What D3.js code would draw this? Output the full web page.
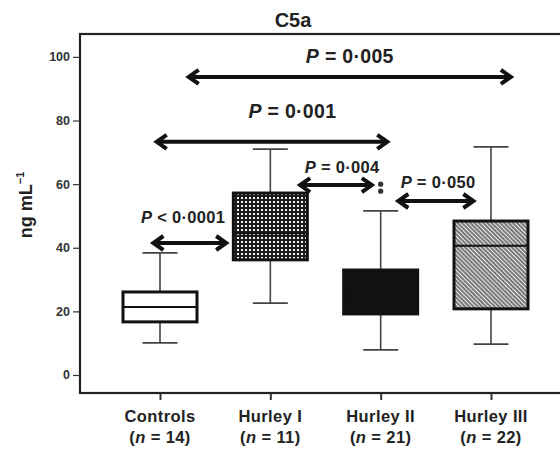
<!DOCTYPE html>
<html>
<head>
<meta charset="utf-8">
<script src="https://cdn.jsdelivr.net/npm/d3@7"></script>
<style>
  body { margin: 0; background: #fff; }
  text { font-family: "Liberation Sans", Arial, sans-serif; }
</style>
</head>
<body>
<script>
// Data
const groups = ["Controls", "Hurley I", "Hurley II", "Hurley III"];
const nCounts = [14, 11, 21, 22];
const whiskerLow = [10.1, 22.6, 7.9, 9.7];
const q1 = [16.7, 36.2, 19.2, 20.8];
const median = [21.4, 44.6, 25.0, 40.6];
const q3 = [26.1, 57.2, 33.0, 48.4];
const whiskerHigh = [38.4, 71.0, 51.6, 71.7];
const outlierGroup = ["Hurley II", "Hurley II"];
const outlierValue = [57.8, 60.0];
const fills = ["white", "url(#dots)", "#111", "url(#hatch)"];
const yTicks = [0, 20, 40, 60, 80, 100];

// comparisons: arrow ends / label centre in group-index units, heights in ng/mL
const cmpLabel = ["= 0·005", "= 0·001", "< 0·0001", "= 0·004", "= 0·050"];
const cmpFrom = [0.26, -0.03, -0.06, 1.27, 2.16];
const cmpTo = [3.18, 2.06, 0.60, 1.92, 2.84];
const cmpY = [93.7, 73.3, 41.5, 59.7, 54.7];
const cmpTextX = [1.72, 1.20, 0.21, 1.65, 2.52];
const cmpTextY = [98.1, 80.8, 47.8, 63.5, 58.8];
const cmpFont = [19.5, 19.5, 16.5, 16.5, 16.5];

const W = 560, H = 453;
const plotL = 80, plotT = 34, plotB = 393, plotR = 571;

const svg = d3.select("body").append("svg")
    .attr("width", W).attr("height", H);

const defs = svg.append("defs");
const dots = defs.append("pattern").attr("id", "dots")
    .attr("patternUnits", "userSpaceOnUse").attr("width", 4).attr("height", 4);
dots.append("rect").attr("width", 4).attr("height", 4).attr("fill", "#1c1c1c");
dots.append("rect").attr("x", 1).attr("y", 1).attr("width", 2).attr("height", 2).attr("fill", "#f4f4f4");

const hatch = defs.append("pattern").attr("id", "hatch")
    .attr("patternUnits", "userSpaceOnUse").attr("width", 3).attr("height", 3)
    .attr("patternTransform", "rotate(-45)");
hatch.append("rect").attr("width", 3).attr("height", 3).attr("fill", "#e8e8e8");
hatch.append("line").attr("x1", 1).attr("x2", 1).attr("y1", 0).attr("y2", 3)
    .attr("stroke", "#4a4a4a").attr("stroke-width", 1.4);

// scales
const x = d3.scalePoint().domain(groups).range([plotL, plotR]).padding(0.725);
const xi = d3.scaleLinear().domain([0, groups.length - 1])
    .range([x(groups[0]), x(groups[groups.length - 1])]);
const y = d3.scaleLinear().domain([-5.66, 107.2]).range([plotB, plotT]);

// frame
svg.append("rect")
    .attr("x", plotL).attr("y", plotT)
    .attr("width", plotR - plotL).attr("height", plotB - plotT)
    .attr("fill", "none").attr("stroke", "#222").attr("stroke-width", 2.2);

// axes
const yAxis = svg.append("g")
    .attr("transform", `translate(${plotL},0)`)
    .call(d3.axisLeft(y).tickValues(yTicks).tickSize(7).tickPadding(3));
yAxis.select(".domain").remove();
yAxis.selectAll("line").attr("stroke", "#333").attr("stroke-width", 1.2);
yAxis.selectAll("text").attr("font-size", 12.5).attr("font-weight", "bold")
    .style("fill", "#333")
    .style("font-family", "'Liberation Sans', Arial, sans-serif");

const xAxis = svg.append("g")
    .attr("transform", `translate(0,${plotB})`)
    .call(d3.axisBottom(x).tickSize(7).tickFormat(""));
xAxis.select(".domain").remove();
xAxis.selectAll("line").attr("stroke", "#333").attr("stroke-width", 2);

groups.forEach((g, i) => {
    const t = svg.append("text")
        .attr("x", x(g)).attr("text-anchor", "middle")
        .attr("font-size", 16.5).attr("font-weight", "bold").attr("fill", "#222")
        .attr("letter-spacing", 0.4);
    t.append("tspan").attr("x", x(g)).attr("y", 422).text(g);
    const t2 = t.append("tspan").attr("x", x(g)).attr("y", 443);
    t2.append("tspan").text("(");
    t2.append("tspan").attr("font-style", "italic").text("n");
    t2.append("tspan").text(" = " + nCounts[i] + ")");
});

// y label
const yl = svg.append("text")
    .attr("transform", `translate(32,205) rotate(-90)`)
    .attr("text-anchor", "middle")
    .attr("font-size", 18).attr("font-weight", "bold").attr("fill", "#222");
yl.append("tspan").text("ng mL");
yl.append("tspan").attr("font-size", 11).attr("dy", -8).text("−1");

// title
svg.append("text").attr("x", 293).attr("y", 27)
    .attr("text-anchor", "middle").attr("font-size", 20).attr("font-weight", "bold")
    .attr("fill", "#222").text("C5a");

// boxes
const boxW = 74, capW = 35;
groups.forEach((g, i) => {
    const cx = x(g);
    const gb = svg.append("g");
    gb.append("line").attr("x1", cx).attr("x2", cx)
        .attr("y1", y(whiskerHigh[i])).attr("y2", y(q3[i]))
        .attr("stroke", "#444").attr("stroke-width", 1.6);
    gb.append("line").attr("x1", cx).attr("x2", cx)
        .attr("y1", y(q1[i])).attr("y2", y(whiskerLow[i]))
        .attr("stroke", "#444").attr("stroke-width", 1.6);
    [whiskerHigh[i], whiskerLow[i]].forEach(v => {
        gb.append("line").attr("x1", cx - capW / 2).attr("x2", cx + capW / 2)
            .attr("y1", y(v)).attr("y2", y(v))
            .attr("stroke", "#444").attr("stroke-width", 1.6);
    });
    gb.append("rect")
        .attr("x", cx - boxW / 2).attr("y", y(q3[i]))
        .attr("width", boxW).attr("height", y(q1[i]) - y(q3[i]))
        .attr("fill", fills[i]).attr("stroke", "#111").attr("stroke-width", 3);
    gb.append("line").attr("x1", cx - boxW / 2).attr("x2", cx + boxW / 2)
        .attr("y1", y(median[i])).attr("y2", y(median[i]))
        .attr("stroke", "#111").attr("stroke-width", 2);
});

// outliers
svg.selectAll(".outlier").data(outlierValue).enter()
    .append("circle")
    .attr("cx", (d, i) => x(outlierGroup[i]))
    .attr("cy", d => y(d))
    .attr("r", 2.6).attr("fill", "#333");

// comparison arrows
const head = 10, spread = 7;
cmpLabel.forEach((lab, i) => {
    const x1 = xi(cmpFrom[i]), x2 = xi(cmpTo[i]), yy = y(cmpY[i]);
    const ga = svg.append("g").attr("fill", "none").attr("stroke", "#111")
        .attr("stroke-width", 4).attr("stroke-linejoin", "miter");
    ga.append("line").attr("x1", x1 + 2).attr("x2", x2 - 2).attr("y1", yy).attr("y2", yy);
    ga.append("polyline")
        .attr("points", `${x1 + head},${yy - spread} ${x1},${yy} ${x1 + head},${yy + spread}`);
    ga.append("polyline")
        .attr("points", `${x2 - head},${yy - spread} ${x2},${yy} ${x2 - head},${yy + spread}`);

    const t = svg.append("text")
        .attr("x", xi(cmpTextX[i])).attr("y", y(cmpTextY[i]))
        .attr("text-anchor", "middle").attr("font-size", cmpFont[i])
        .attr("font-weight", "bold").attr("fill", "#222")
        .attr("letter-spacing", 0.3);
    t.append("tspan").attr("font-style", "italic").text("P");
    t.append("tspan").text(" " + lab);
});
</script>
</body>
</html>
